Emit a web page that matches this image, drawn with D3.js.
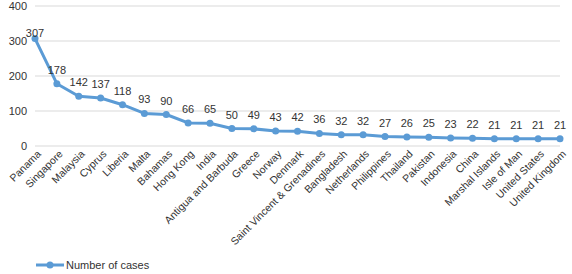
<!DOCTYPE html>
<html>
<head>
<meta charset="utf-8">
<script src="https://cdn.jsdelivr.net/npm/d3@7"></script>
<style>
  body { margin: 0; background: #fff; }
  text { font-family: "Liberation Sans", Arial, sans-serif; fill: #333; }
</style>
</head>
<body>
<script>
const countries = ['Panama', 'Singapore', 'Malaysia', 'Cyprus', 'Liberia', 'Malta', 'Bahamas', 'Hong Kong', 'India',
  'Antigua and Barbuda', 'Greece', 'Norway', 'Denmark', 'Saint Vincent & Grenadines', 'Bangladesh', 'Netherlands',
  'Philippines', 'Thailand', 'Pakistan', 'Indonesia', 'China', 'Marshal Islands', 'Isle of Man', 'United States', 'United Kingdom']
const cases = [307, 178, 142, 137, 118, 93, 90, 66, 65, 50, 49, 43, 42, 36, 32, 32, 27, 26, 25, 23, 22, 21, 21, 21, 21]
const yTicks = [0, 100, 200, 300, 400]
const seriesName = 'Number of cases'

const w = 572
const h = 274
const margin = { top: 6, right: 12, bottom: 128, left: 35 }
const width = w - margin.left - margin.right
const height = h - margin.top - margin.bottom
const blue = '#5b9bd5'

const svg = d3.select('body').append('svg')
  .attr('width', w)
  .attr('height', h)

const g = svg.append('g').attr('transform', 'translate(' + margin.left + ',' + margin.top + ')')

const x = d3.scalePoint().domain(countries).range([0, width]).padding(0)
const y = d3.scaleLinear().domain([0, 400]).range([height, 0])

// gridlines
g.append('g')
  .selectAll('line')
  .data(yTicks)
  .enter().append('line')
  .attr('x1', 0)
  .attr('x2', width)
  .attr('y1', d => y(d))
  .attr('y2', d => y(d))
  .attr('stroke', '#d9d9d9')
  .attr('stroke-width', 1)

// y labels
g.append('g')
  .selectAll('text')
  .data(yTicks)
  .enter().append('text')
  .attr('x', -8)
  .attr('y', d => y(d))
  .attr('dy', '0.35em')
  .attr('text-anchor', 'end')
  .attr('font-size', 11)
  .text(d => d)

// x labels
g.append('g')
  .selectAll('text')
  .data(countries)
  .enter().append('text')
  .attr('transform', d => 'translate(' + (x(d) + 4) + ',' + (height + 6) + ') rotate(-45)')
  .attr('text-anchor', 'end')
  .attr('dy', '0.35em')
  .attr('font-size', 10.5)
  .text(d => d)

const line = d3.line()
  .x((d, i) => x(countries[i]))
  .y(d => y(d))

g.append('path')
  .datum(cases)
  .attr('d', line)
  .attr('fill', 'none')
  .attr('stroke', blue)
  .attr('stroke-width', 3)
  .attr('stroke-linejoin', 'round')

g.selectAll('circle')
  .data(cases)
  .enter().append('circle')
  .attr('cx', (d, i) => x(countries[i]))
  .attr('cy', d => y(d))
  .attr('r', 3.5)
  .attr('fill', blue)

// data labels, kept inside the plot area like the original
g.append('g')
  .selectAll('text')
  .data(cases)
  .enter().append('text')
  .attr('x', (d, i) => x(countries[i]))
  .attr('y', d => Math.max(y(d) - 10, 31))
  .attr('text-anchor', 'middle')
  .attr('font-size', 11)
  .text(d => d)

// legend
const legend = svg.append('g').attr('transform', 'translate(36,265)')
legend.append('line')
  .attr('x1', 0).attr('x2', 28)
  .attr('stroke', blue).attr('stroke-width', 3)
legend.append('circle').attr('cx', 14).attr('r', 3.5).attr('fill', blue)
legend.append('text')
  .attr('x', 30)
  .attr('dy', '0.35em')
  .attr('font-size', 11)
  .text(seriesName)
</script>
</body>
</html>
